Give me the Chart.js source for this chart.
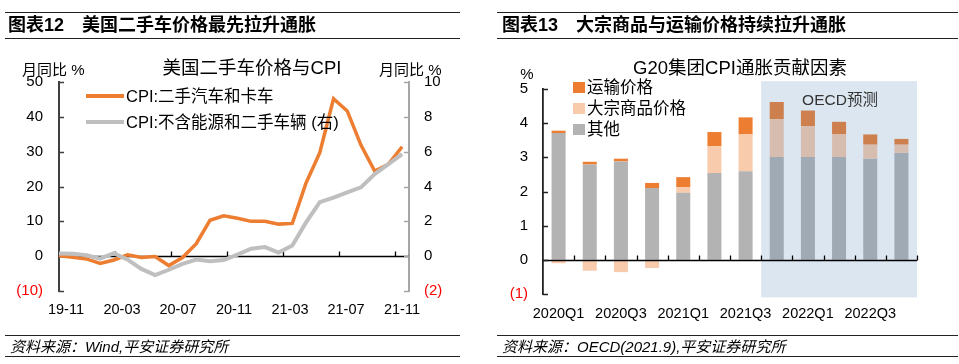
<!DOCTYPE html>
<html><head><meta charset="utf-8">
<script src="https://cdn.jsdelivr.net/npm/chart.js@4.4.0/dist/chart.umd.min.js"></script>
<style>
body{margin:0;background:#fff;width:959px;height:364px;overflow:hidden;position:relative;font-family:"Liberation Sans","Noto Sans CJK SC",sans-serif;color:#000}
.t{position:absolute;white-space:nowrap;line-height:1}
.c{transform:translate(-50%,-50%)}
.l{transform:translate(0,-50%)}
.rule{position:absolute;height:0;border-top:1px solid #222}
canvas{position:absolute;top:0}
.sw{position:absolute}
</style></head><body>
<canvas id="c1" width="480" height="364" style="left:0;width:480px;height:364px"></canvas>
<canvas id="c2" width="479" height="364" style="left:480px;width:479px;height:364px"></canvas>

<div class="rule" style="left:5px;top:12px;width:455px"></div>
<div class="rule" style="left:5px;top:38px;width:455px"></div>
<div class="t l" style="left:8px;top:25px;font-size:18px;font-weight:bold">图表12　美国二手车价格最先拉升通胀</div>
<div class="t c" style="left:252px;top:68px;font-size:18.5px">美国二手车价格与CPI</div>
<div class="t l" style="left:22px;top:69px;font-size:15px">月同比 %</div>
<div class="t l" style="left:379px;top:69px;font-size:15px">月同比 %</div>
<div class="sw" style="left:86px;top:94px;width:38px;height:4px;background:#ED7D31"></div>
<div class="t l" style="left:126px;top:96px;font-size:16.5px">CPI:二手汽车和卡车</div>
<div class="sw" style="left:86px;top:120px;width:38px;height:4px;background:#BFBFBF"></div>
<div class="t l" style="left:126px;top:122px;font-size:16.5px">CPI:不含能源和二手车辆 (右)</div>
<div class="rule" style="left:5px;top:335px;width:455px"></div>
<div class="rule" style="left:5px;top:356px;width:455px"></div>
<div class="t l" style="left:10px;top:346px;font-size:15px;font-style:italic">资料来源：Wind,平安证券研究所</div>

<div class="rule" style="left:497px;top:12px;width:461px"></div>
<div class="rule" style="left:497px;top:38px;width:461px"></div>
<div class="t l" style="left:502px;top:25px;font-size:18px;font-weight:bold">图表13　大宗商品与运输价格持续拉升通胀</div>
<div class="t c" style="left:740px;top:68px;font-size:18.5px">G20集团CPI通胀贡献因素</div>
<div class="t c" style="left:527px;top:73px;font-size:15px">%</div>
<div class="sw" style="left:573px;top:82px;width:12px;height:11px;background:#ED7D31"></div>
<div class="t l" style="left:587px;top:87px;font-size:16.5px">运输价格</div>
<div class="sw" style="left:573px;top:103px;width:12px;height:11px;background:#F8CBAD"></div>
<div class="t l" style="left:587px;top:108px;font-size:16.5px">大宗商品价格</div>
<div class="sw" style="left:573px;top:124px;width:12px;height:11px;background:#B3B3B3"></div>
<div class="t l" style="left:587px;top:129px;font-size:16.5px">其他</div>
<div class="t c" style="left:840px;top:100px;font-size:15.5px;color:#333">OECD预测</div>
<div class="rule" style="left:497px;top:335px;width:461px"></div>
<div class="rule" style="left:497px;top:356px;width:461px"></div>
<div class="t l" style="left:502px;top:346px;font-size:15px;font-style:italic">资料来源：OECD(2021.9),平安证券研究所</div>

<script>
// ---------- data: chart 1 ----------
const months = ['2019-10','2019-11','2019-12','2020-01','2020-02','2020-03','2020-04','2020-05','2020-06','2020-07','2020-08','2020-09','2020-10','2020-11','2020-12','2021-01','2021-02','2021-03','2021-04','2021-05','2021-06','2021-07','2021-08','2021-09','2021-10','2021-11'];
const usedCarCPI = [0.1,-0.3,-0.8,-2.1,-1.1,0.4,-0.4,-0.1,-2.7,-0.4,3.6,10.3,11.6,10.9,10.0,10.0,9.2,9.4,21.0,29.7,45.2,41.7,31.9,24.4,26.4,31.4];
const coreExUsedCPI = [0.16,0.14,0.05,-0.14,0.17,-0.2,-0.73,-1.09,-0.78,-0.44,-0.19,-0.29,-0.22,0.09,0.43,0.52,0.21,0.61,1.94,3.1,3.36,3.66,3.95,4.71,5.29,5.86];
const monthTickLabels = ['19-11','20-03','20-07','20-11','21-03','21-07','21-11'];

// ---------- data: chart 2 ----------
const quarters = ['2020Q1','2020Q2','2020Q3','2020Q4','2021Q1','2021Q2','2021Q3','2021Q4','2022Q1','2022Q2','2022Q3','2022Q4'];
const otherContrib = [3.71,2.79,2.88,2.10,1.96,2.54,2.59,3.01,3.01,3.01,2.96,3.13];
const commodityContrib = [-0.10,-0.32,-0.36,-0.24,0.17,0.79,1.08,1.11,0.90,0.66,0.41,0.24];
const transportContrib = [0.07,0.08,0.08,0.15,0.29,0.41,0.50,0.50,0.46,0.37,0.30,0.17];
const forecastStart = '2021Q4';

Chart.defaults.font.family = '"Liberation Sans","Noto Sans CJK SC",sans-serif';
Chart.defaults.color = '#000';
const tickFont = {size:15};
const negLabel = v => v < 0 ? '(' + (-v) + ')' : String(v);
const negColor = c => (c.tick && c.tick.value < 0) ? '#ff0000' : '#000';

const deco1 = {
  id:'deco1',
  beforeDatasetsDraw(chart){
    const {ctx, chartArea:a, scales:{x, y, y1}} = chart;
    ctx.save();
    const y0 = Math.round(y.getPixelForValue(0)) + 0.5;
    ctx.strokeStyle = '#000'; ctx.lineWidth = 1.3;
    ctx.beginPath(); ctx.moveTo(a.left, y0); ctx.lineTo(a.right, y0);
    x.ticks.forEach(t => { if (t.value === 0) return; const px = Math.round(x.getPixelForValue(t.value)) + 0.5; ctx.moveTo(px, y0); ctx.lineTo(px, y0 - 5); });
    ctx.stroke();
    ctx.lineWidth = 1.5;
    ctx.strokeStyle = '#404040'; ctx.beginPath();
    y.ticks.forEach(t => { const py = Math.round(y.getPixelForValue(t.value)) + 0.5; ctx.moveTo(a.left, py); ctx.lineTo(a.left + 5, py); });
    ctx.stroke();
    ctx.strokeStyle = '#a6a6a6'; ctx.beginPath();
    y1.ticks.forEach(t => { const py = Math.round(y1.getPixelForValue(t.value)) + 0.5; ctx.moveTo(a.right, py); ctx.lineTo(a.right - 5, py); });
    ctx.stroke();
    ctx.restore();
  }
};

new Chart(document.getElementById('c1'), {
  type:'line',
  data:{
    datasets:[
      {label:'CPI:二手汽车和卡车', data:months.map((m,i)=>({x:i, y:usedCarCPI[i]})), xAxisID:'xd', yAxisID:'y', borderColor:'#ED7D31', borderWidth:3.5, pointRadius:0, tension:0, order:1},
      {label:'CPI:不含能源和二手车辆 (右)', data:months.map((m,i)=>({x:i, y:coreExUsedCPI[i]})), xAxisID:'xd', yAxisID:'y1', borderColor:'#BFBFBF', borderWidth:4, pointRadius:0, tension:0, order:0}
    ]
  },
  options:{
    responsive:false, animation:false, devicePixelRatio:1,
    layout:{padding:{top:82, left:0, right:0, bottom:0}},
    plugins:{legend:{display:false}, tooltip:{enabled:false}},
    scales:{
      x:{type:'linear', position:'bottom', min:0, max:25,
        afterBuildTicks: s => { s.ticks = monthTickLabels.map((_,k)=>({value:k*4})); },
        ticks:{callback: v => monthTickLabels[Math.round(v/4)], labelOffset:7, padding:10, font:{size:14.5}, maxRotation:0, autoSkip:false},
        grid:{display:false, drawTicks:false}, border:{display:false},
        afterFit: s => { s.height = 73; }},
      xd:{type:'linear', display:false, min:0, max:25.5},
      y:{position:'left', min:-10, max:50,
        ticks:{stepSize:10, callback:negLabel, color:negColor, padding:16, font:tickFont},
        grid:{display:false, drawTicks:false}, border:{color:'#404040', width:2},
        afterFit: s => { s.width = 59; }},
      y1:{position:'right', min:-2, max:10,
        ticks:{stepSize:2, callback:negLabel, color:negColor, padding:15, font:tickFont},
        grid:{display:false, drawTicks:false}, border:{color:'#a6a6a6', width:2},
        afterFit: s => { s.width = 71; }}
    }
  },
  plugins:[deco1]
});

const deco2 = {
  id:'deco2',
  afterDatasetsDraw(chart){
    const {ctx, chartArea:a, scales:{x, y}} = chart;
    ctx.save();
    const si = quarters.indexOf(forecastStart);
    const step = x.getPixelForValue(1) - x.getPixelForValue(0);
    const x0 = x.getPixelForValue(si) - step/2;
    const yt = y.getPixelForValue(5.23), yb = y.getPixelForValue(-1.1);
    ctx.fillStyle = 'rgba(88,136,188,0.21)';
    ctx.fillRect(x0, yt, a.right - x0, yb - yt);
    const y0 = Math.round(y.getPixelForValue(0)) + 0.5;
    ctx.strokeStyle = '#000'; ctx.lineWidth = 1.3;
    ctx.beginPath(); ctx.moveTo(a.left, y0); ctx.lineTo(a.right, y0);
    for (let i = 1; i <= quarters.length; i++) {
      const px = Math.round(x.getPixelForValue(i) - step/2) + 0.5;
      ctx.moveTo(px, y0); ctx.lineTo(px, y0 - 5);
    }
    ctx.stroke();
    ctx.lineWidth = 1.5; ctx.strokeStyle = '#222'; ctx.beginPath();
    y.ticks.forEach(t => { const py = Math.round(y.getPixelForValue(t.value)) + 0.5; ctx.moveTo(a.left, py); ctx.lineTo(a.left + 5, py); });
    ctx.stroke();
    ctx.restore();
  }
};

new Chart(document.getElementById('c2'), {
  type:'bar',
  data:{
    labels:quarters,
    datasets:[
      {label:'其他', data:otherContrib, backgroundColor:'#B3B3B3'},
      {label:'大宗商品价格', data:commodityContrib, backgroundColor:'#F8CBAD'},
      {label:'运输价格', data:transportContrib, backgroundColor:'#ED7D31'}
    ]
  },
  options:{
    responsive:false, animation:false, devicePixelRatio:1,
    layout:{padding:{top:89, left:0, right:42, bottom:0}},
    plugins:{legend:{display:false}, tooltip:{enabled:false}},
    datasets:{bar:{categoryPercentage:1, barPercentage:0.45}},
    scales:{
      x:{stacked:true,
        ticks:{callback:(v,i)=> i % 2 === 0 ? quarters[i] : '', autoSkip:false, maxRotation:0, padding:11, font:{size:14.5}},
        grid:{display:false, drawTicks:false}, border:{display:false},
        afterFit: s => { s.height = 70; }},
      y:{stacked:true, min:-1, max:5,
        ticks:{stepSize:1, callback:negLabel, color:negColor, padding:15, font:tickFont},
        grid:{display:false, drawTicks:false}, border:{color:'#222', width:1.8},
        afterFit: s => { s.width = 63; }}
    }
  },
  plugins:[deco2]
});
</script>
</body></html>
